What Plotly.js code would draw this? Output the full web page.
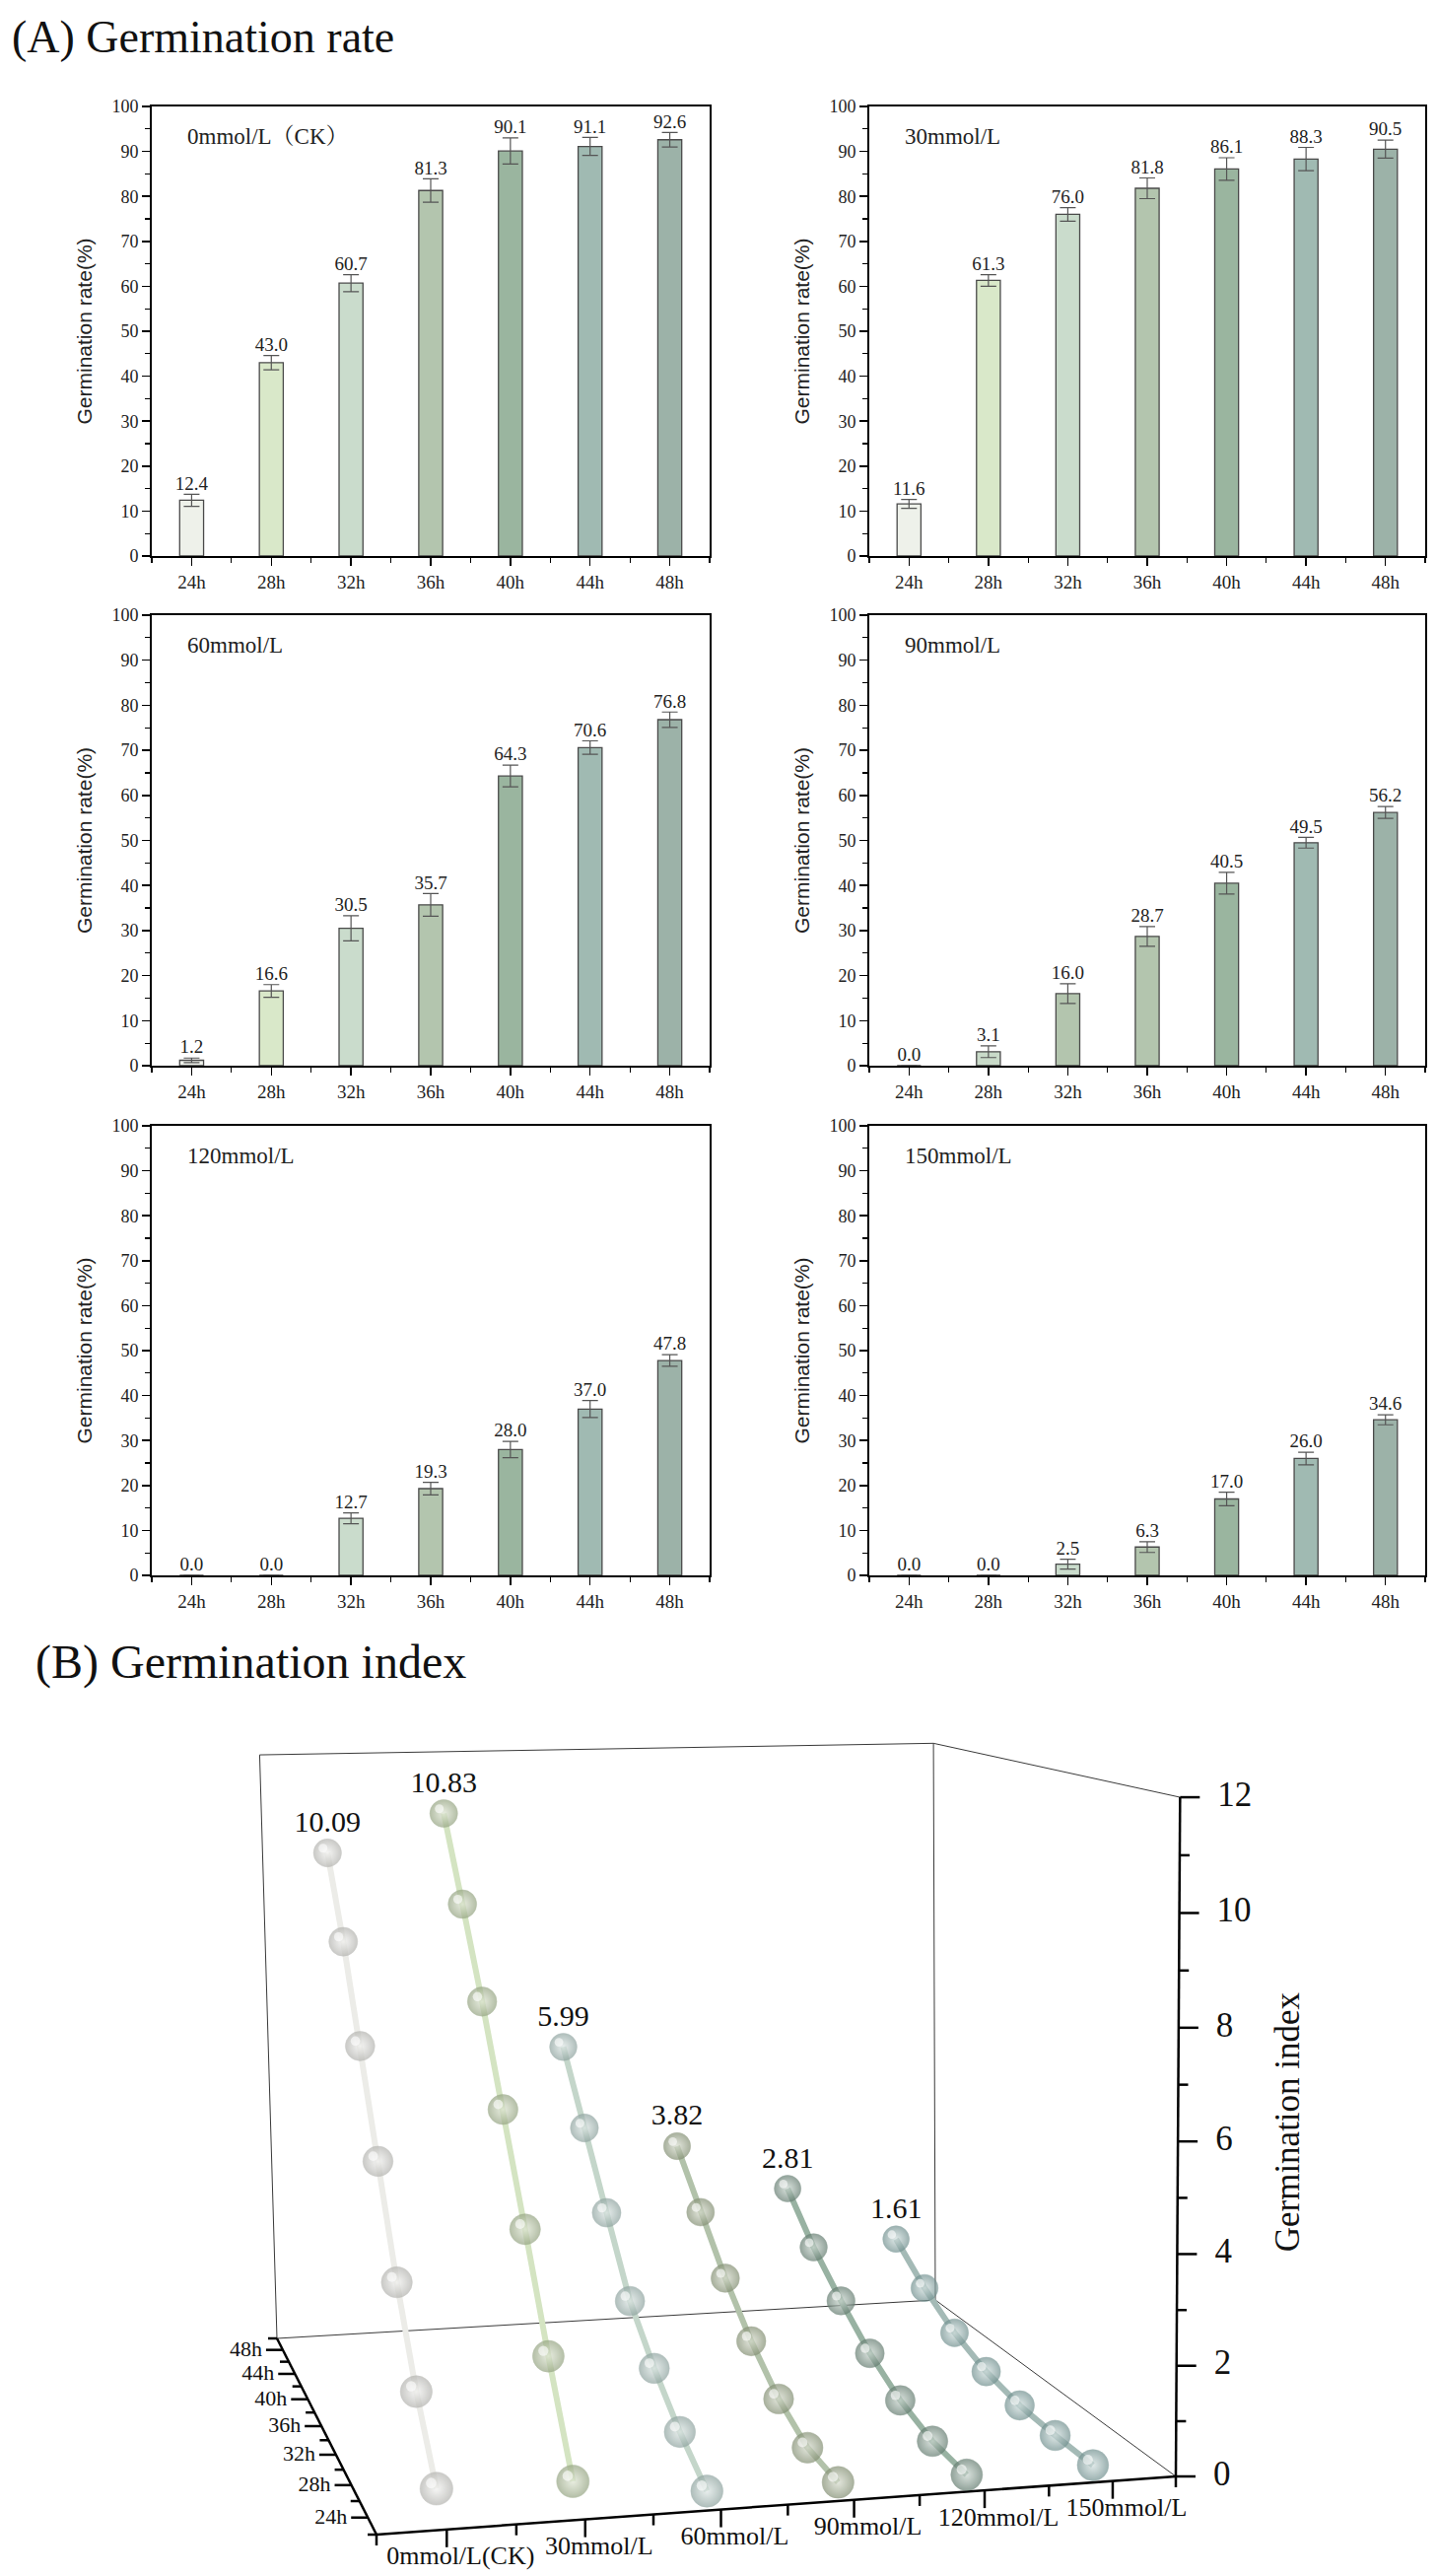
<!DOCTYPE html>
<html><head><meta charset="utf-8">
<script src="https://cdn.plot.ly/plotly-3.0.1.min.js"></script>
<style>html,body{margin:0;padding:0;background:#fff}#chart{width:1458px;height:2613px}</style>
</head><body><div id="chart"></div>
<script>
// ---------- data ----------
const times = ['24h','28h','32h','36h','40h','44h','48h'];
const panelLabels = ['0mmol/L（CK）','30mmol/L','60mmol/L','90mmol/L','120mmol/L','150mmol/L'];
const concentrations = ['0mmol/L(CK)','30mmol/L','60mmol/L','90mmol/L','120mmol/L','150mmol/L'];

const rate0   = [12.4, 43.0, 60.7, 81.3, 90.1, 91.1, 92.6];
const err0    = [1.35, 1.6, 1.9, 2.6, 2.9, 2.0, 1.6];
const rate30  = [11.6, 61.3, 76.0, 81.8, 86.1, 88.3, 90.5];
const err30   = [1.0, 1.3, 1.5, 2.3, 2.5, 2.6, 2.0];
const rate60  = [1.2, 16.6, 30.5, 35.7, 64.3, 70.6, 76.8];
const err60   = [0.5, 1.4, 2.8, 2.5, 2.4, 1.5, 1.7];
const rate90  = [0.0, 3.1, 16.0, 28.7, 40.5, 49.5, 56.2];
const err90   = [0, 1.3, 2.2, 2.2, 2.4, 1.2, 1.3];
const rate120 = [0.0, 0.0, 12.7, 19.3, 28.0, 37.0, 47.8];
const err120  = [0, 0, 1.2, 1.4, 1.8, 1.9, 1.3];
const rate150 = [0.0, 0.0, 2.5, 6.3, 17.0, 26.0, 34.6];
const err150  = [0, 0, 1.1, 1.2, 1.5, 1.4, 1.1];

const barColors   = ['#eef1ea','#d9e8c9','#cadccc','#b3c5ae','#9ab59f','#a0bab2','#9cb2a8'];
const barColors90 = ['#eef1ea','#c9dbc9','#b3c5ae','#b3c5ae','#9ab59f','#a0bab2','#9cb2a8'];

// germination index over time for each concentration
const gi0   = [0.42, 1.60, 3.11, 4.95, 6.80, 8.55, 10.09];
const gi30  = [0.38, 2.09, 3.96, 5.82, 7.57, 9.22, 10.83];
const gi60  = [0.04, 0.56, 1.23, 2.04, 3.34, 4.66, 5.99];
const gi90  = [0.03, 0.11, 0.50, 1.12, 1.91, 2.83, 3.82];
const gi120 = [0.00, 0.07, 0.32, 0.74, 1.32, 1.98, 2.81];
const gi150 = [0.01, 0.02, 0.07, 0.23, 0.53, 1.00, 1.61];
const giTicks = [0, 2, 4, 6, 8, 10, 12];

const sphereColors = ['#b3b3af','#95a482','#8ea39f','#838f73','#647c70','#71908f'];
const sphereLights = ['#f3f3f1','#dfe6d4','#dfe8e6','#d8ddcf','#ccd8d1','#d4e1e0'];
const lineColors   = ['#ececE8','#d4e4c2','#c4d6ca','#b2c2aa','#98b2a2','#a4bab6'];

// ---------- common ----------
const serif = 'Liberation Serif, Times New Roman, Noto Serif CJK SC, Noto Sans CJK SC, serif';
const sans = 'Liberation Sans, Arial, sans-serif';
const W = 1458, H = 2613;
const idx = times.map((t, i) => i);

const traces = [];
const layout = {
  width: W, height: H, margin: {l:0, r:0, t:0, b:0},
  paper_bgcolor: '#fff', plot_bgcolor: 'rgba(0,0,0,0)', showlegend: false,
  font: {family: serif, color: '#222'},
  annotations: []
};

// ---------- (A) bar panels ----------
const panels = [
  {rate: rate0, err: err0, colors: barColors},
  {rate: rate30, err: err30, colors: barColors},
  {rate: rate60, err: err60, colors: barColors},
  {rate: rate90, err: err90, colors: barColors90},
  {rate: rate120, err: err120, colors: barColors},
  {rate: rate150, err: err150, colors: barColors}
];
const colX = [[154/W, 720/W], [882/W, 1446/W]];
const rowY = [[108,564],[624,1081],[1142,1598]].map(r => [1 - r[1]/H, 1 - r[0]/H]);

panels.forEach((p, k) => {
  const n = k === 0 ? '' : String(k + 1);
  const xa = 'x' + n, ya = 'y' + n;
  traces.push({
    type: 'bar', x: idx, y: p.rate, xaxis: xa, yaxis: ya, width: 0.3,
    marker: {color: p.colors, line: {color: '#4a4a4a', width: 1.3}},
    error_y: {type: 'data', array: p.err, visible: true, color: '#555', thickness: 1.2, width: 8},
    hoverinfo: 'skip'
  });
  traces.push({
    type: 'scatter', mode: 'text', x: idx, y: p.rate.map((v, i) => v + p.err[i]),
    text: p.rate.map(v => v.toFixed(1)), textposition: 'top center',
    textfont: {family: serif, size: 19, color: '#222'}, xaxis: xa, yaxis: ya,
    cliponaxis: false, hoverinfo: 'skip'
  });
  const col = k % 2, row = Math.floor(k / 2);
  layout['xaxis' + n] = {
    domain: colX[col], anchor: ya, range: [-0.5, 6.5],
    tickmode: 'array', tickvals: idx, ticktext: times,
    ticks: 'outside', ticklen: 8, tickwidth: 1.5, tickcolor: '#000',
    minor: {tick0: 0.5, dtick: 1, ticks: 'outside', ticklen: 5, tickwidth: 1.2, tickcolor: '#000'},
    showline: true, linecolor: '#000', linewidth: 2, mirror: true,
    showgrid: false, zeroline: false,
    tickfont: {family: serif, size: 19, color: '#222'}, fixedrange: true
  };
  layout['yaxis' + n] = {
    domain: rowY[row], anchor: xa, range: [0, 100], dtick: 10,
    ticks: 'outside', ticklen: 8, tickwidth: 1.5, tickcolor: '#000',
    minor: {dtick: 5, ticks: 'outside', ticklen: 5, tickwidth: 1.2, tickcolor: '#000'},
    showline: true, linecolor: '#000', linewidth: 2, mirror: true,
    showgrid: false, zeroline: false,
    tickfont: {family: serif, size: 18, color: '#222'},
    title: {text: 'Germination rate(%)', font: {family: sans, size: 21, color: '#222'}, standoff: 14},
    fixedrange: true
  };
  layout.annotations.push({
    xref: xa, yref: ya, x: -0.08, y: 93.3, xanchor: 'left', yanchor: 'middle',
    text: panelLabels[k], showarrow: false,
    font: {family: serif, size: 23, color: '#222'}
  });
});

layout.annotations.push({
  xref: 'paper', yref: 'paper', x: 10/W, y: 1 - 37/H, xanchor: 'left', yanchor: 'middle',
  text: '(A) Germination rate', showarrow: false, font: {family: serif, size: 46, color: '#111'}
});
layout.annotations.push({
  xref: 'paper', yref: 'paper', x: 34/W, y: 1 - 1686/H, xanchor: 'left', yanchor: 'middle',
  text: '(B) Germination index', showarrow: false, font: {family: serif, size: 48, color: '#111'}
});

// ---------- (B) 3D view, projected onto a 2D pixel-scaled axis ----------
const xr = [-0.5, concentrations.length - 0.5], yr = [-0.5, times.length - 0.5], zr = [giTicks[0], giTicks[giTicks.length - 1]];
// view calibration: where the box corners fall on the page
const viewCal = {
  floor: [[xr[0], yr[0], 382, 2571], [xr[1], yr[0], 1193, 2512], [xr[0], yr[1], 281, 2372], [xr[1], yr[1], 949, 2333]],
  top:   [[xr[0], yr[1], 262, 1782], [xr[1], yr[1], 952, 1769], [xr[1], yr[0], 1193, 1820]]
};
const NU = 700, NV = 2200, NS = 500;

function solveLS(A, b) {
  const n = A[0].length;
  const M = [], r = [];
  for (let i = 0; i < n; i++) {
    M.push(new Array(n).fill(0)); r.push(0);
    for (let k = 0; k < A.length; k++) {
      r[i] += A[k][i] * b[k];
      for (let j = 0; j < n; j++) M[i][j] += A[k][i] * A[k][j];
    }
  }
  for (let c = 0; c < n; c++) {
    let piv = c;
    for (let i = c + 1; i < n; i++) if (Math.abs(M[i][c]) > Math.abs(M[piv][c])) piv = i;
    [M[c], M[piv]] = [M[piv], M[c]]; [r[c], r[piv]] = [r[piv], r[c]];
    for (let i = 0; i < n; i++) {
      if (i === c) continue;
      const f = M[i][c] / M[c][c];
      for (let j = c; j < n; j++) M[i][j] -= f * M[c][j];
      r[i] -= f * r[c];
    }
  }
  return r.map((v, i) => v / M[i][i]);
}
const Hm = (function () {
  const A = [], b = [];
  viewCal.floor.forEach(([X, Y, u, v]) => {
    const un = (u - NU) / NS, vn = (v - NV) / NS;
    A.push([X, Y, 1, 0, 0, 0, -un * X, -un * Y]); b.push(un);
    A.push([0, 0, 0, X, Y, 1, -vn * X, -vn * Y]); b.push(vn);
  });
  const h = solveLS(A, b);
  return [[h[0], h[1], h[2]], [h[3], h[4], h[5]], [h[6], h[7], 1]];
})();
const dot3 = (r, q) => r[0] * q[0] + r[1] * q[1] + r[2] * q[2];
const Zc = (function () {
  const A = [], b = [];
  viewCal.top.forEach(([X, Y, u, v]) => {
    const Z = zr[1], q = [X, Y, 1];
    const un = (u - NU) / NS, vn = (v - NV) / NS;
    A.push([Z, 0, -un * Z]); b.push(un * dot3(Hm[2], q) - dot3(Hm[0], q));
    A.push([0, Z, -vn * Z]); b.push(vn * dot3(Hm[2], q) - dot3(Hm[1], q));
  });
  return solveLS(A, b);
})();
function proj(X, Y, Z) {
  const q = [X, Y, 1];
  const w = dot3(Hm[2], q) + Zc[2] * Z;
  return [((dot3(Hm[0], q) + Zc[0] * Z) / w) * NS + NU, ((dot3(Hm[1], q) + Zc[1] * Z) / w) * NS + NV, w];
}

const AX = {xaxis: 'x7', yaxis: 'y7', hoverinfo: 'skip', cliponaxis: false};
layout.xaxis7 = {domain: [0, 1], range: [0, W], visible: false, fixedrange: true};
layout.yaxis7 = {domain: [0, 1 - 1700 / H], range: [H, 1700], visible: false, fixedrange: true};

function segTrace(segs, color, width) {
  const x = [], y = [];
  segs.forEach(s => { x.push(s[0][0], s[1][0], null); y.push(s[0][1], s[1][1], null); });
  return Object.assign({type: 'scatter', mode: 'lines', x, y, line: {color, width}}, AX);
}
const c = {
  FL: proj(xr[0], yr[0], zr[0]), FR: proj(xr[1], yr[0], zr[0]),
  BL: proj(xr[0], yr[1], zr[0]), BR: proj(xr[1], yr[1], zr[0]),
  TBL: proj(xr[0], yr[1], zr[1]), TBR: proj(xr[1], yr[1], zr[1]), TFR: proj(xr[1], yr[0], zr[1])
};
// thin box edges
traces.push(segTrace([[c.BL, c.BR], [c.BL, c.TBL], [c.TBL, c.TBR], [c.TBR, c.BR], [c.TBR, c.TFR], [c.BR, c.FR]], '#3a3a3a', 1));

// ticks
const tickSegs = [];
concentrations.forEach((cn, i) => {
  const p = proj(i, yr[0], zr[0]); tickSegs.push([p, [p[0], p[1] + 18]]);
});
for (let i = 0; i <= concentrations.length; i++) {
  const p = proj(i - 0.5, yr[0], zr[0]); tickSegs.push([p, [p[0], p[1] + 11]]);
}
times.forEach((t, i) => {
  const p = proj(xr[0], i, zr[0]); tickSegs.push([p, [p[0] - 17, p[1]]]);
});
for (let i = 0; i <= times.length; i++) {
  const p = proj(xr[0], i - 0.5, zr[0]); tickSegs.push([p, [p[0] - 9, p[1]]]);
}
for (let z = zr[0]; z <= zr[1]; z += 1) {
  const p = proj(xr[1], yr[0], z); tickSegs.push([p, [p[0] + (z % 2 === 0 ? 20 : 10), p[1]]]);
}
traces.push(segTrace(tickSegs, '#000', 2.5));
traces.push(segTrace([[c.FL, c.FR], [c.FL, c.BL], [c.FR, c.TFR]], '#000', 2.5));

// tick labels
const xl = concentrations.map((cn, i) => proj(i, yr[0], zr[0]));
traces.push(Object.assign({type: 'scatter', mode: 'text', x: xl.map(p => p[0] + 14), y: xl.map(p => p[1] + 29),
  text: concentrations, textposition: 'middle center', textfont: {family: serif, size: 26, color: '#111'}}, AX));
const yl = times.map((t, i) => proj(xr[0], i, zr[0]));
traces.push(Object.assign({type: 'scatter', mode: 'text', x: yl.map(p => p[0] - 21), y: yl.map(p => p[1] + 1),
  text: times, textposition: 'middle left', textfont: {family: serif, size: 22, color: '#111'}}, AX));
const zl = giTicks.map(z => proj(xr[1], yr[0], z));
traces.push(Object.assign({type: 'scatter', mode: 'text', x: zl.map(p => p[0] + 38), y: zl.map(p => p[1]),
  text: giTicks.map(String), textposition: 'middle right', textfont: {family: serif, size: 35, color: '#111'}}, AX));
const zt = proj(xr[1], yr[0], (zr[0] + zr[1]) / 2);
layout.annotations.push({xref: 'x7', yref: 'y7', x: zt[0] + 111, y: zt[1] - 20, text: 'Germination index',
  textangle: -90, showarrow: false, xanchor: 'center', yanchor: 'middle', font: {family: serif, size: 35, color: '#111'}});

// series: lines, shaded spheres, end labels
const giSeries = [gi0, gi30, gi60, gi90, gi120, gi150];
const wRef = proj((xr[0] + xr[1]) / 2, (yr[0] + yr[1]) / 2, 5)[2];
giSeries.forEach((g, s) => {
  const pts = g.map((v, i) => proj(s, i, v));
  const sz = pts.map(p => 30 * wRef / p[2]);
  traces.push(Object.assign({type: 'scatter', mode: 'lines', x: pts.map(p => p[0]), y: pts.map(p => p[1]),
    line: {color: lineColors[s], width: 6}}, AX));
  traces.push(Object.assign({type: 'scatter', mode: 'markers', x: pts.map(p => p[0]), y: pts.map(p => p[1]),
    marker: {size: sz, color: sphereColors[s], gradient: {type: 'radial', color: sphereLights[s]},
      line: {color: sphereColors[s], width: 0.5}}}, AX));
  traces.push(Object.assign({type: 'scatter', mode: 'markers',
    x: pts.map((p, i) => p[0] - 0.16 * sz[i]), y: pts.map((p, i) => p[1] - 0.17 * sz[i]),
    marker: {size: sz.map(d => 0.32 * d), color: 'rgba(255,255,255,0.85)', line: {width: 0}}}, AX));
  const last = pts[pts.length - 1];
  traces.push(Object.assign({type: 'scatter', mode: 'text', x: [last[0]], y: [last[1] - 29],
    text: [g[g.length - 1].toFixed(2)], textposition: 'middle center',
    textfont: {family: serif, size: 30, color: '#111'}}, AX));
});

Plotly.newPlot('chart', traces, layout, {staticPlot: true, displayModeBar: false});
</script></body></html>
